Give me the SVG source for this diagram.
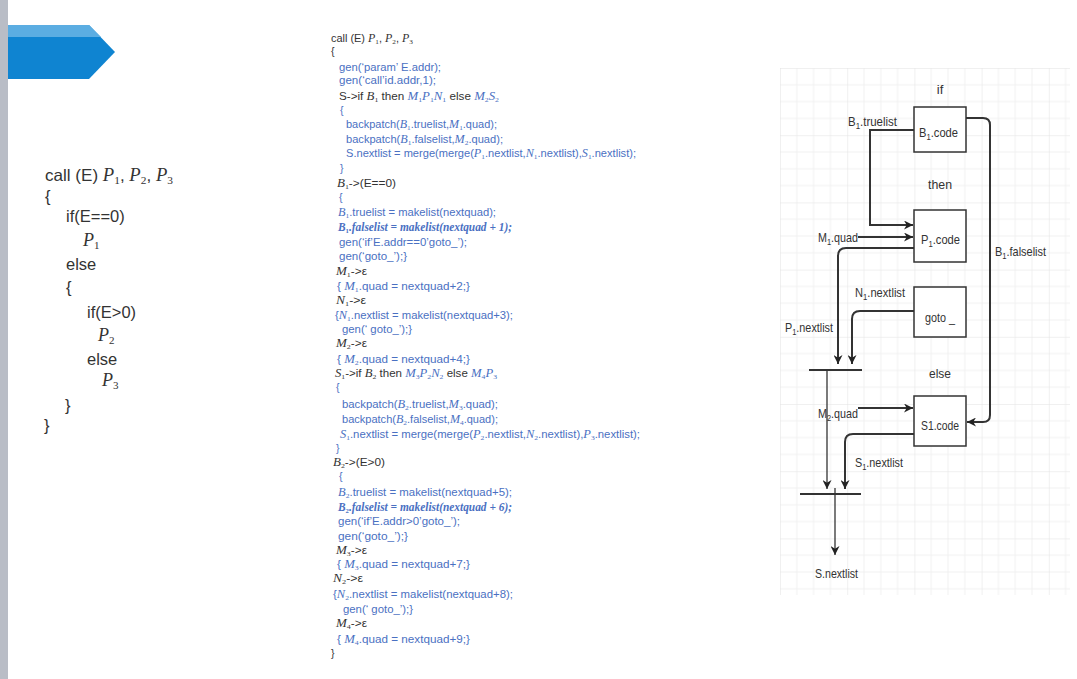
<svg xmlns="http://www.w3.org/2000/svg" width="1077" height="679" viewBox="0 0 1077 679">
<style>
.k{fill:#333;font-family:"Liberation Sans",Arial,sans-serif;font-size:10.5px}
.b{fill:#4a70c2;font-family:"Liberation Sans",Arial,sans-serif;font-size:10.5px}
.bt{fill:#4a70c2}
.m{font-family:"Liberation Serif","DejaVu Serif",serif;font-style:italic;font-size:11.5px}
.mb{font-family:"Liberation Serif","DejaVu Serif",serif;font-style:italic;font-weight:bold;font-size:12px;fill:#4a70c2}
.s{font-size:7px;baseline-shift:-2px;font-style:normal}
.L{fill:#333;font-family:"Liberation Sans",Arial,sans-serif;font-size:16.5px}
.LM{font-family:"Liberation Serif","DejaVu Serif",serif;font-style:italic;font-size:18px}
.Ls{font-size:11px;baseline-shift:-3px;font-style:normal}
.d{fill:#333;font-family:"Liberation Sans",Arial,sans-serif;font-size:13px}
.ds{font-size:9px;baseline-shift:-3px}
.box{fill:#fff;stroke:#333;stroke-width:1.5}
.c{fill:none;stroke:#333;stroke-width:2}
.c1{fill:none;stroke:#333;stroke-width:1.3}
</style>
<defs>
<pattern id="grid" x="780" y="68" width="67.2" height="67.2" patternUnits="userSpaceOnUse">
<path d="M16.8 0V67.2M33.6 0V67.2M50.4 0V67.2M0 16.8H67.2M0 33.6H67.2M0 50.4H67.2" stroke="#f1f1f1" stroke-width="1" fill="none"/>
<path d="M0 0V67.2M0 0H67.2" stroke="#e2e2e2" stroke-width="1" fill="none"/>
</pattern>
<marker id="ar" viewBox="0 0 10 10" refX="10" refY="5" markerWidth="9" markerHeight="9" markerUnits="userSpaceOnUse" orient="auto">
<path d="M0 0L10 5L0 10L3 5Z" fill="#222"/>
</marker>
</defs>
<rect width="1077" height="679" fill="#fff"/>
<rect x="0" y="0" width="8" height="679" fill="#b9bdc6"/>
<g id="banner">
<polygon points="8,25 89,25 115,52 89,79 8,79" fill="#0f84d1"/>
<polygon points="8,25 89,25 101,37 8,37" fill="#5badE2"/>
</g>
<g id="source-code">
<text class="L" x="45" y="181" textLength="128" lengthAdjust="spacingAndGlyphs">call (E) <tspan class="LM">P<tspan class="Ls">1</tspan></tspan>, <tspan class="LM">P<tspan class="Ls">2</tspan></tspan>, <tspan class="LM">P<tspan class="Ls">3</tspan></tspan></text>
<text class="L" x="45" y="202">{</text>
<text class="L" x="66" y="222">if(E==0)</text>
<text class="L" x="83" y="246"><tspan class="LM">P<tspan class="Ls">1</tspan></tspan></text>
<text class="L" x="66" y="270">else</text>
<text class="L" x="66" y="293">{</text>
<text class="L" x="87" y="318">if(E&gt;0)</text>
<text class="L" x="98" y="341"><tspan class="LM">P<tspan class="Ls">2</tspan></tspan></text>
<text class="L" x="87" y="365">else</text>
<text class="L" x="102" y="386"><tspan class="LM">P<tspan class="Ls">3</tspan></tspan></text>
<text class="L" x="65" y="411">}</text>
<text class="L" x="44" y="431">}</text>
</g>
<g id="translation-scheme">
<text class="k" x="331" y="42" textLength="82" lengthAdjust="spacingAndGlyphs">call (E) <tspan class="m">P<tspan class="s">1</tspan></tspan>, <tspan class="m">P<tspan class="s">2</tspan></tspan>, <tspan class="m">P<tspan class="s">3</tspan></tspan></text>
<text class="k" x="331" y="55">{</text>
<text class="b" x="339" y="71" textLength="102" lengthAdjust="spacingAndGlyphs">gen(‘param’ E.addr);</text>
<text class="b" x="339" y="84" textLength="97" lengthAdjust="spacingAndGlyphs">gen(‘call’id.addr,1);</text>
<text class="k" x="339" y="100" textLength="160" lengthAdjust="spacingAndGlyphs">S-&gt;if <tspan class="m">B<tspan class="s">1</tspan></tspan> then <tspan class="m bt">M<tspan class="s">1</tspan>P<tspan class="s">1</tspan>N<tspan class="s">1</tspan></tspan> else <tspan class="m bt">M<tspan class="s">2</tspan>S<tspan class="s">2</tspan></tspan></text>
<text class="b" x="340" y="114">{</text>
<text class="b" x="346" y="128" textLength="151" lengthAdjust="spacingAndGlyphs">backpatch(<tspan class="m">B<tspan class="s">1</tspan></tspan>.truelist,<tspan class="m">M<tspan class="s">1</tspan></tspan>.quad);</text>
<text class="b" x="346" y="143" textLength="157" lengthAdjust="spacingAndGlyphs">backpatch(<tspan class="m">B<tspan class="s">1</tspan></tspan>.falselist,<tspan class="m">M<tspan class="s">2</tspan></tspan>.quad);</text>
<text class="b" x="346" y="157" textLength="290" lengthAdjust="spacingAndGlyphs">S.nextlist = merge(merge(<tspan class="m">P<tspan class="s">1</tspan></tspan>.nextlist,<tspan class="m">N<tspan class="s">1</tspan></tspan>.nextlist),<tspan class="m">S<tspan class="s">1</tspan></tspan>.nextlist);</text>
<text class="b" x="340" y="172">}</text>
<text class="k" x="337" y="187" textLength="59" lengthAdjust="spacingAndGlyphs"><tspan class="m">B<tspan class="s">1</tspan></tspan>-&gt;(E==0)</text>
<text class="b" x="339" y="201">{</text>
<text class="b" x="338" y="216" textLength="158" lengthAdjust="spacingAndGlyphs"><tspan class="m">B<tspan class="s">1</tspan></tspan>.truelist = makelist(nextquad);</text>
<text class="mb" x="338" y="231" textLength="174" lengthAdjust="spacingAndGlyphs">B<tspan class="s">1</tspan>.falselist = makelist(nextquad + 1);</text>
<text class="b" x="339" y="246" textLength="128" lengthAdjust="spacingAndGlyphs">gen(‘if’E.addr==0’goto_’);</text>
<text class="b" x="339" y="260" textLength="68" lengthAdjust="spacingAndGlyphs">gen(‘goto_’);}</text>
<text class="k" x="336" y="275" textLength="31" lengthAdjust="spacingAndGlyphs"><tspan class="m">M<tspan class="s">1</tspan></tspan>-&gt;ε</text>
<text class="b" x="337" y="290" textLength="133" lengthAdjust="spacingAndGlyphs">{ <tspan class="m">M<tspan class="s">1</tspan></tspan>.quad = nextquad+2;}</text>
<text class="k" x="336" y="304" textLength="30" lengthAdjust="spacingAndGlyphs"><tspan class="m">N<tspan class="s">1</tspan></tspan>-&gt;ε</text>
<text class="b" x="335" y="319" textLength="178" lengthAdjust="spacingAndGlyphs">{<tspan class="m">N<tspan class="s">1</tspan></tspan>.nextlist = makelist(nextquad+3);</text>
<text class="b" x="342" y="333" textLength="70" lengthAdjust="spacingAndGlyphs">gen(‘ goto_’);}</text>
<text class="k" x="336" y="347" textLength="31" lengthAdjust="spacingAndGlyphs"><tspan class="m">M<tspan class="s">2</tspan></tspan>-&gt;ε</text>
<text class="b" x="337" y="363" textLength="133" lengthAdjust="spacingAndGlyphs">{ <tspan class="m">M<tspan class="s">2</tspan></tspan>.quad = nextquad+4;}</text>
<text class="k" x="335" y="377" textLength="162" lengthAdjust="spacingAndGlyphs"><tspan class="m">S<tspan class="s">1</tspan></tspan>-&gt;if <tspan class="m">B<tspan class="s">2</tspan></tspan> then <tspan class="m bt">M<tspan class="s">3</tspan>P<tspan class="s">2</tspan>N<tspan class="s">2</tspan></tspan> else <tspan class="m bt">M<tspan class="s">4</tspan>P<tspan class="s">3</tspan></tspan></text>
<text class="b" x="336" y="391">{</text>
<text class="b" x="342" y="408" textLength="156" lengthAdjust="spacingAndGlyphs">backpatch(<tspan class="m">B<tspan class="s">2</tspan></tspan>.truelist,<tspan class="m">M<tspan class="s">3</tspan></tspan>.quad);</text>
<text class="b" x="342" y="423" textLength="156" lengthAdjust="spacingAndGlyphs">backpatch(<tspan class="m">B<tspan class="s">2</tspan></tspan>.falselist,<tspan class="m">M<tspan class="s">4</tspan></tspan>.quad);</text>
<text class="b" x="340" y="438" textLength="300" lengthAdjust="spacingAndGlyphs"><tspan class="m">S<tspan class="s">1</tspan></tspan>.nextlist = merge(merge(<tspan class="m">P<tspan class="s">2</tspan></tspan>.nextlist,<tspan class="m">N<tspan class="s">2</tspan></tspan>.nextlist),<tspan class="m">P<tspan class="s">3</tspan></tspan>.nextlist);</text>
<text class="b" x="336" y="452">}</text>
<text class="k" x="333" y="466" textLength="52" lengthAdjust="spacingAndGlyphs"><tspan class="m">B<tspan class="s">2</tspan></tspan>-&gt;(E&gt;0)</text>
<text class="b" x="339" y="480">{</text>
<text class="b" x="338" y="496" textLength="174" lengthAdjust="spacingAndGlyphs"><tspan class="m">B<tspan class="s">2</tspan></tspan>.truelist = makelist(nextquad+5);</text>
<text class="mb" x="338" y="511" textLength="174" lengthAdjust="spacingAndGlyphs">B<tspan class="s">2</tspan>.falselist = makelist(nextquad + 6);</text>
<text class="b" x="338" y="525" textLength="122" lengthAdjust="spacingAndGlyphs">gen(‘if’E.addr&gt;0’goto_’);</text>
<text class="b" x="338" y="540" textLength="70" lengthAdjust="spacingAndGlyphs">gen(‘goto_’);}</text>
<text class="k" x="336" y="554" textLength="31" lengthAdjust="spacingAndGlyphs"><tspan class="m">M<tspan class="s">3</tspan></tspan>-&gt;ε</text>
<text class="b" x="337" y="568" textLength="133" lengthAdjust="spacingAndGlyphs">{ <tspan class="m">M<tspan class="s">3</tspan></tspan>.quad = nextquad+7;}</text>
<text class="k" x="333" y="582" textLength="30" lengthAdjust="spacingAndGlyphs"><tspan class="m">N<tspan class="s">2</tspan></tspan>-&gt;ε</text>
<text class="b" x="333" y="598" textLength="180" lengthAdjust="spacingAndGlyphs">{<tspan class="m">N<tspan class="s">2</tspan></tspan>.nextlist = makelist(nextquad+8);</text>
<text class="b" x="343" y="613" textLength="70" lengthAdjust="spacingAndGlyphs">gen(‘ goto_’);}</text>
<text class="k" x="336" y="627" textLength="31" lengthAdjust="spacingAndGlyphs"><tspan class="m">M<tspan class="s">4</tspan></tspan>-&gt;ε</text>
<text class="b" x="337" y="643" textLength="133" lengthAdjust="spacingAndGlyphs">{ <tspan class="m">M<tspan class="s">4</tspan></tspan>.quad = nextquad+9;}</text>
<text class="k" x="331" y="657">}</text>
</g>
<rect x="780" y="68" width="290" height="527" fill="url(#grid)"/>
<g id="connectors">
<path class="c" d="M914 130H870V225H913" marker-end="url(#ar)"/>
<path class="c" d="M858 237H913" marker-end="url(#ar)"/>
<path class="c" d="M966 118H983Q990 118 990 125V415Q990 422 983 422H967" marker-end="url(#ar)"/>
<path class="c" d="M914 248H846Q838 248 838 256V364" marker-end="url(#ar)"/>
<path class="c" d="M914 311H860Q852 311 852 319V364" marker-end="url(#ar)"/>
<path class="c" d="M809 370H862"/>
<path class="c1" d="M827 370V489" marker-end="url(#ar)"/>
<path class="c" d="M858 408H913" marker-end="url(#ar)"/>
<path class="c" d="M914 434H853Q845 434 845 442V489" marker-end="url(#ar)"/>
<path class="c" d="M800 494H861"/>
<path class="c1" d="M835 488V555" marker-end="url(#ar)"/>
</g>
<g id="labels">
<text class="d" x="940" y="94" text-anchor="middle">if</text>
<text class="d" x="940" y="189" text-anchor="middle" textLength="24" lengthAdjust="spacingAndGlyphs">then</text>
<text class="d" x="940" y="378" text-anchor="middle" textLength="22" lengthAdjust="spacingAndGlyphs">else</text>
<text class="d" x="848" y="126" textLength="49" lengthAdjust="spacingAndGlyphs">B<tspan class="ds">1</tspan>.truelist</text>
<text class="d" x="818" y="242" textLength="40" lengthAdjust="spacingAndGlyphs">M<tspan class="ds">1</tspan>.quad</text>
<text class="d" x="995" y="256" textLength="51" lengthAdjust="spacingAndGlyphs">B<tspan class="ds">1</tspan>.falselist</text>
<text class="d" x="855" y="297" textLength="50" lengthAdjust="spacingAndGlyphs">N<tspan class="ds">1</tspan>.nextlist</text>
<text class="d" x="785" y="332" textLength="48" lengthAdjust="spacingAndGlyphs">P<tspan class="ds">1</tspan>.nextlist</text>
<text class="d" x="818" y="418" textLength="40" lengthAdjust="spacingAndGlyphs">M<tspan class="ds">2</tspan>.quad</text>
<text class="d" x="855" y="467" textLength="48" lengthAdjust="spacingAndGlyphs">S<tspan class="ds">1</tspan>.nextlist</text>
<text class="d" x="815" y="578" textLength="43" lengthAdjust="spacingAndGlyphs">S.nextlist</text>
</g>
<g id="node-b1code">
<rect class="box" x="914" y="107" width="52" height="45"/>
<text class="d" x="919" y="137" textLength="39" lengthAdjust="spacingAndGlyphs">B<tspan class="ds">1</tspan>.code</text>
</g>
<g id="node-p1code">
<rect class="box" x="914" y="210" width="52" height="52"/>
<text class="d" x="921" y="244" textLength="39" lengthAdjust="spacingAndGlyphs">P<tspan class="ds">1</tspan>.code</text>
</g>
<g id="node-goto">
<rect class="box" x="914" y="287" width="52" height="50"/>
<text class="d" x="925" y="322" textLength="30" lengthAdjust="spacingAndGlyphs">goto _</text>
</g>
<g id="node-s1code">
<rect class="box" x="914" y="396" width="52" height="50"/>
<text class="d" x="921" y="430" textLength="38" lengthAdjust="spacingAndGlyphs">S1.code</text>
</g>
</svg>
